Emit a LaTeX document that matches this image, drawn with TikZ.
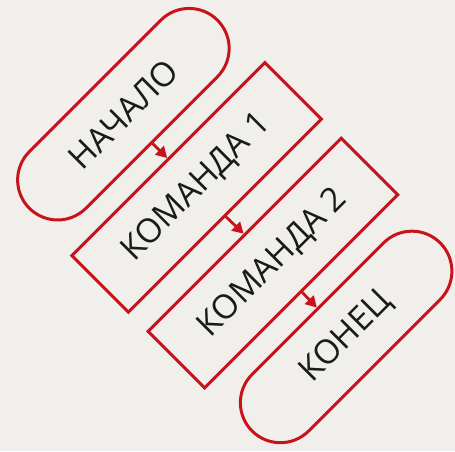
\documentclass[tikz,border=0pt]{standalone}
\usepackage{fontspec}
\setmainfont{Open Sans}
\usetikzlibrary{arrows.meta,shapes.misc}
\definecolor{fr}{HTML}{C8121C}
\definecolor{bg}{HTML}{F0EFEB}
\definecolor{tx}{HTML}{1A1A1A}
\begin{document}
\begin{tikzpicture}[x=1pt,y=1pt,
  box/.style={draw=fr,line width=3pt,minimum width=273pt,minimum height=80pt,inner sep=0pt,text=tx,font=\fontsize{33.5}{38}\selectfont},
  term/.style={box,rounded rectangle,minimum width=266pt},
  flow/.style={draw=fr,line width=2.8pt,-{Triangle[length=11pt,width=12pt]}}]
\fill[bg] (0,0) rectangle (455,451);
\useasboundingbox (0,0) rectangle (455,451);
\begin{scope}[shift={(0,451)},rotate=45,transform shape]
\node[term] (start) at (6.5,-168) {НАЧАЛО};
\node[box] (c1) at (6.5,-271.5) {КОМАНДА 1};
\node[box] (c2) at (7,-379) {КОМАНДА 2};
\node[term] (end) at (6.5,-483) {КОНЕЦ};
\draw[flow] (start.south) -- (c1.north);
\draw[flow] (c1.south) -- (c2.north);
\draw[flow] (c2.south) -- (end.north);
\end{scope}
\end{tikzpicture}
\end{document}
